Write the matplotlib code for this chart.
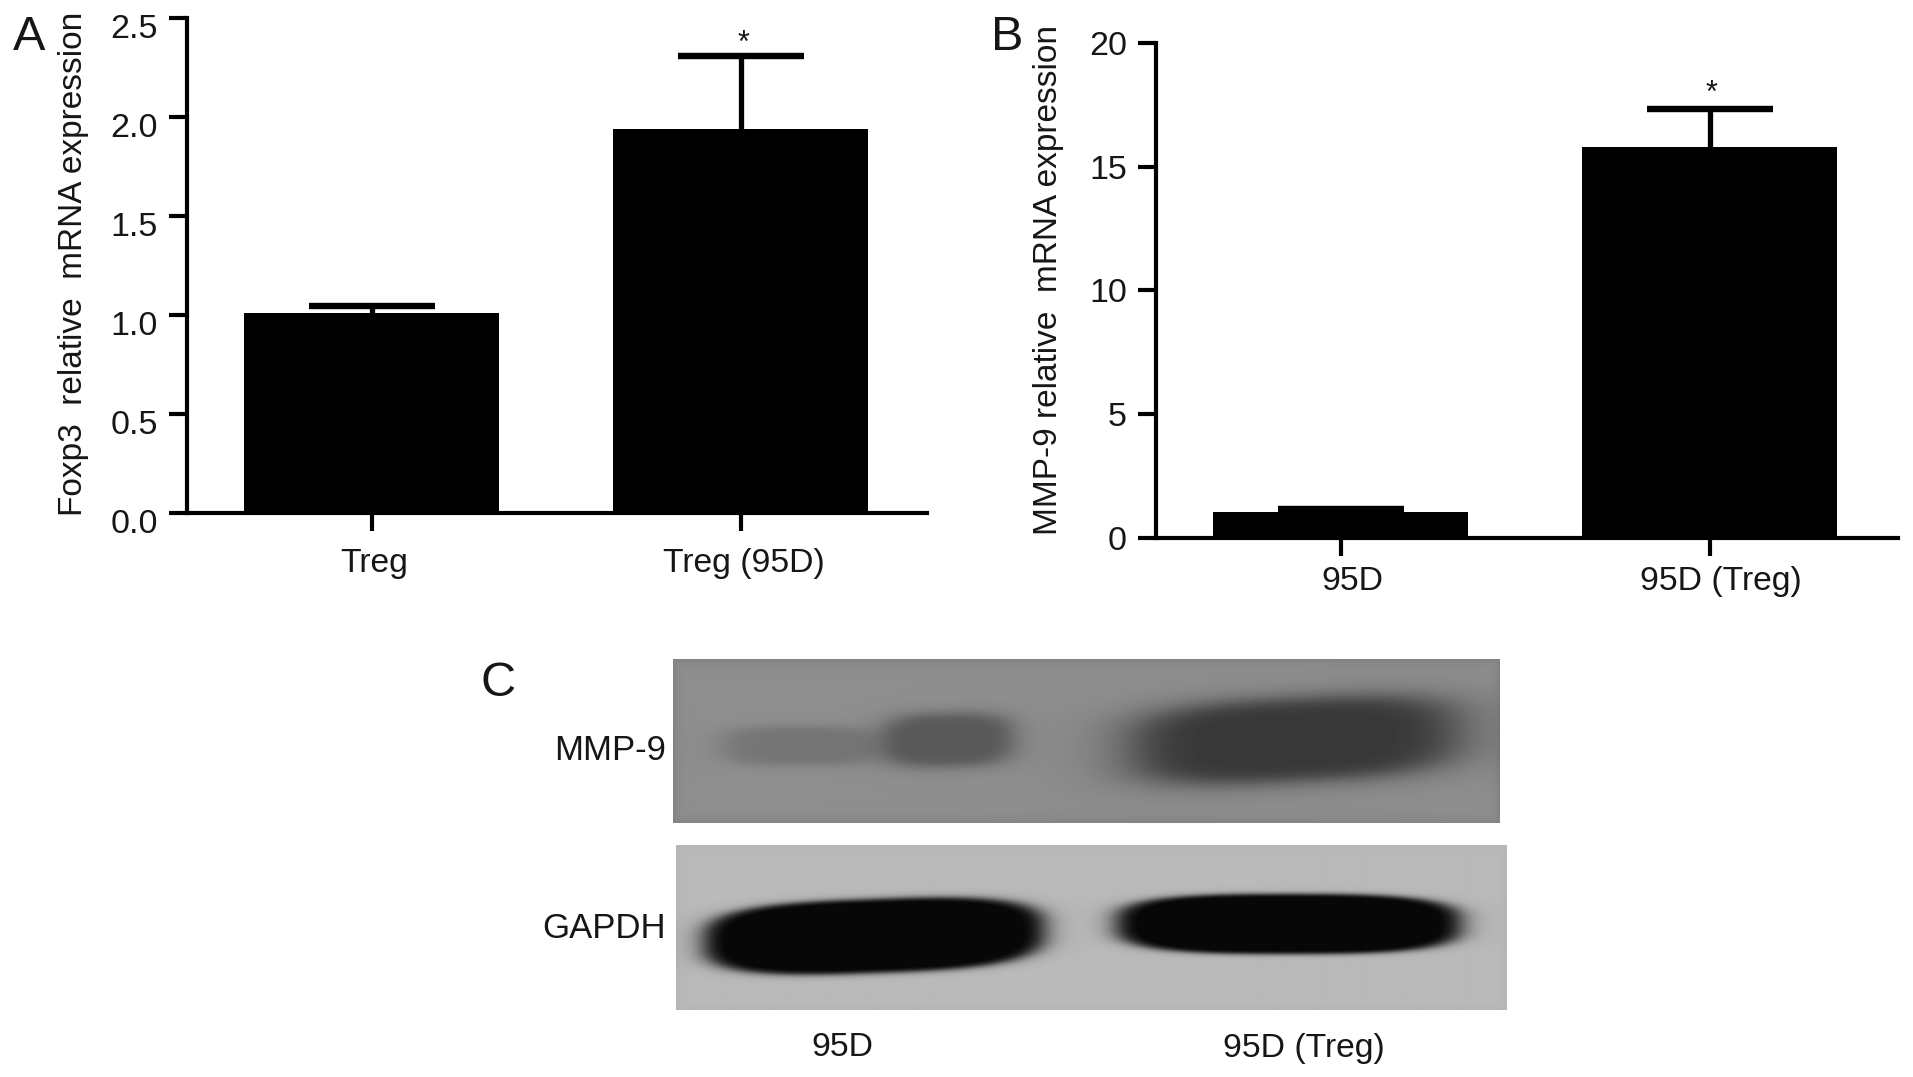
import numpy as np
import matplotlib
matplotlib.use("Agg")
import matplotlib.pyplot as plt
from matplotlib.transforms import ScaledTranslation

W, H = 1913, 1077
plt.rcParams['font.family'] = ['Liberation Sans', 'DejaVu Sans']
INK = '#161616'

# Panel A data
a_labels = ['Treg', 'Treg (95D)']
a_values = [1.01, 1.94]
a_errors = [0.035, 0.37]
a_ticks = [0.0, 0.5, 1.0, 1.5, 2.0, 2.5]
a_ylabel = 'Foxp3  relative  mRNA expression'

# Panel B data
b_labels = ['95D', '95D (Treg)']
b_values = [1.05, 15.8]
b_errors = [0.12, 1.55]
b_ticks = [0, 5, 10, 15, 20]
b_ylabel = 'MMP-9 relative  mRNA expression'

# Panel C bands, full-size pixels: centre x, centre y, half width, half height, darkness, tilt
mmp9_bands = [(800, 746, 78, 20, 0.10, 0.0),
              (948, 740, 66, 27, 0.21, -0.02),
              (1295, 740, 166, 42, 0.34, -0.05)]
gapdh_bands = [(874, 936, 170, 37, 0.74, -0.035),
               (1288, 924, 172, 30, 0.74, 0.0)]
blot_labels = ['MMP-9', 'GAPDH']
lane_labels = ['95D', '95D (Treg)']


def axes_px(l, t, r, b):
    return fig.add_axes([l / W, 1 - b / H, (r - l) / W, (b - t) / H])


def shift(artist, dx, dy):
    artist.set_transform(artist.get_transform() +
                         ScaledTranslation(dx / 100, dy / 100, fig.dpi_scale_trans))


def bar_panel(ax, labels, values, errors, ticks, ticklabels, ymax, xmax):
    x = [1, 2]
    ax.bar(x, values, width=0.69, color='black', linewidth=0, zorder=2)
    # the lower half of each symmetric error bar is hidden behind its bar
    ax.errorbar(x, values, yerr=errors, fmt='none', ecolor='black',
                elinewidth=3.8, capsize=45.5, capthick=4.6, zorder=1)
    ax.set_xlim(0.5, xmax)
    ax.set_ylim(0, ymax)
    ax.set_xticks(x)
    ax.set_xticklabels(labels)
    ax.set_yticks(ticks)
    ax.set_yticklabels(ticklabels)
    ax.tick_params(axis='both', length=13, width=3, color='black',
                   labelcolor=INK)
    ax.tick_params(axis='x', pad=13, labelsize=24.3)
    ax.tick_params(axis='y', pad=8, labelsize=24.5)
    for s in ('top', 'right'):
        ax.spines[s].set_visible(False)
    for s in ('left', 'bottom'):
        ax.spines[s].set_linewidth(3)
    ax.patch.set_alpha(0)


def band_field(xx, yy, bands, sharp):
    dark = np.zeros_like(xx, dtype=float)
    for cx, cy, a, b, amp, tilt in bands:
        u = np.abs(xx - cx) / a
        v = np.abs(yy - (cy + tilt * (xx - cx))) / b
        r = (u ** 3 + v ** 3) ** (1 / 3)
        dark = dark + amp / (1 + r ** sharp)
    return dark


def blot(extent, bands, bg, edge, sharp):
    l, t, r, b = extent
    ax = axes_px(l, t, r, b)
    xs = np.arange(l, r) + 0.5
    ys = np.arange(t, b) + 0.5
    xx, yy = np.meshgrid(xs, ys)
    img = bg - band_field(xx, yy, bands, sharp)
    d = np.minimum.reduce([xx - l, r - xx, yy - t, b - yy])
    img = img - edge * np.exp(-d / 6)
    ax.imshow(np.clip(img, 0.03, 1), cmap='gray', vmin=0, vmax=1, aspect='auto',
              interpolation='bilinear')
    ax.axis('off')


fig = plt.figure(figsize=(W / 100, H / 100), dpi=100, facecolor='white')

axA = axes_px(187, 18, 927, 513)
bar_panel(axA, a_labels, a_values, a_errors, a_ticks,
          [f'{v:.1f}' for v in a_ticks], 2.5, 2.505)
for lab in axA.get_yticklabels():
    shift(lab, 0, -8)
for lab in axA.get_xticklabels():
    shift(lab, 3, 1)

axB = axes_px(1156, 43, 1898, 538)
bar_panel(axB, b_labels, b_values, b_errors, b_ticks,
          [str(v) for v in b_ticks], 20, 2.51)
shift(axB.get_xticklabels()[0], 12, 8)
shift(axB.get_xticklabels()[1], 11, 8)

blot((673, 659, 1500, 823), mmp9_bands, 0.56, 0.05, 8)
blot((676, 845, 1506, 1010), gapdh_bands, 0.73, 0.02, 22)


def txt(x, y, s, **kw):
    kw.setdefault('color', INK)
    kw.setdefault('va', 'center')
    kw.setdefault('ha', 'center')
    return fig.text(x / W, 1 - y / H, s, **kw)


txt(74, 264, a_ylabel, rotation=90, fontsize=24)
txt(1049, 280, b_ylabel, rotation=90, fontsize=24)
txt(29, 38, 'A', fontsize=35)
txt(1007, 37, 'B', fontsize=35)
txt(498, 684, 'C', fontsize=35)
txt(743, 44, '*', fontsize=22)
txt(1712, 94, '*', fontsize=22)
txt(666, 750, blot_labels[0], ha='right', fontsize=25)
txt(666, 929, blot_labels[1], ha='right', fontsize=25)
txt(842, 1048, lane_labels[0], fontsize=24.3)
txt(1304, 1048, lane_labels[1], fontsize=24.3)

fig.savefig('out.png', dpi=100, facecolor='white')
